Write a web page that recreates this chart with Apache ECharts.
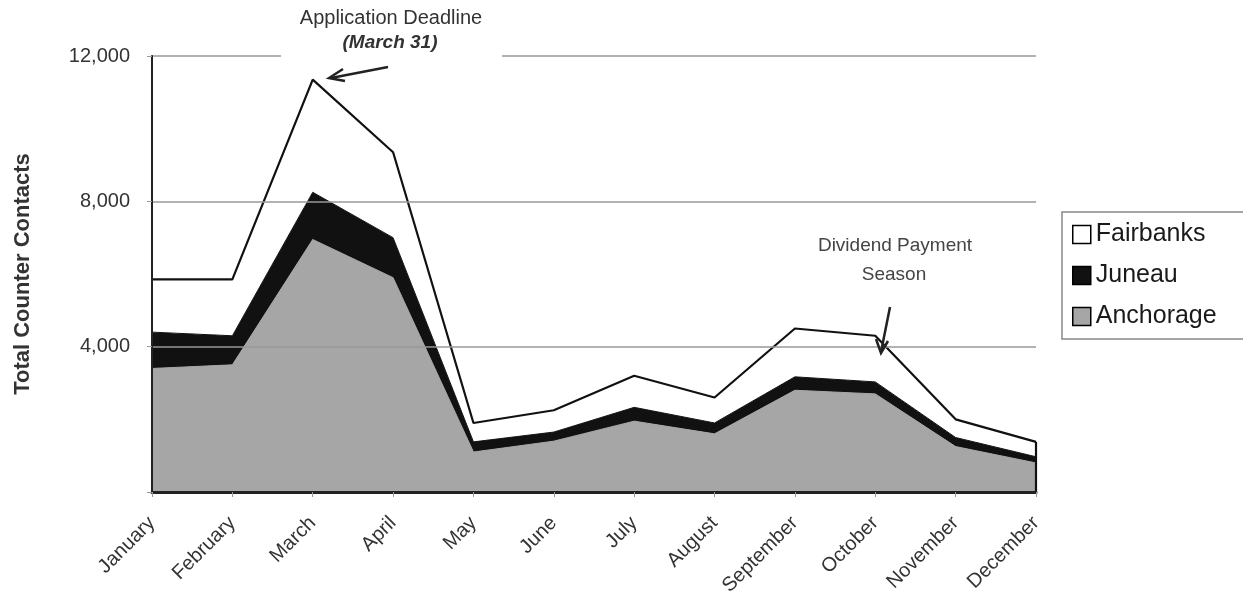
<!DOCTYPE html>
<html>
<head>
<meta charset="utf-8">
<script src="https://cdn.jsdelivr.net/npm/echarts@6/dist/echarts.min.js"></script>
<style>
html,body{margin:0;padding:0;background:#fff;}
#chart{width:1243px;height:615px;}
</style>
</head>
<body>
<div id="chart"></div>
<script>
// ---- data ----
const months = ['January','February','March','April','May','June','July','August','September','October','November','December'];
const anchorage = [3400, 3500, 6950, 5900, 1100, 1400, 1950, 1600, 2800, 2700, 1250, 800];
const juneau    = [1000,  800, 1300, 1100,  280,  250,  380,  300,  370,  330,  250, 170];
const fairbanks = [1450, 1550, 3100, 2350,  520,  600,  870,  700, 1330, 1270,  500, 410];
const yTicks = [0, 4000, 8000, 12000];

const FONT = '"Liberation Sans", Arial, sans-serif';
const lastIdx = months.length - 1;
const lastTotal = anchorage[lastIdx] + juneau[lastIdx] + fairbanks[lastIdx];

const chart = echarts.init(document.getElementById('chart'), null, {renderer: 'canvas'});
chart.setOption({
  backgroundColor: '#fff',
  animation: false,
  textStyle: {fontFamily: FONT},
  grid: {left: 152, right: 207, top: 56, bottom: 123, containLabel: false},
  legend: {
    orient: 'vertical',
    left: 1062, top: 212,
    itemWidth: 18, itemHeight: 18, itemGap: 16,
    icon: 'rect',
    borderColor: '#888', borderWidth: 1.5,
    padding: [10, 30, 10, 10],
    textStyle: {fontSize: 25, color: '#1a1a1a', fontFamily: FONT},
    data: [
      {name: 'Fairbanks', itemStyle: {color: '#fff', borderColor: '#000', borderWidth: 1.5}},
      {name: 'Juneau', itemStyle: {color: '#111', borderColor: '#000', borderWidth: 1.5}},
      {name: 'Anchorage', itemStyle: {color: '#a6a6a6', borderColor: '#000', borderWidth: 1.5}}
    ]
  },
  xAxis: {
    type: 'category',
    data: months,
    boundaryGap: false,
    axisLine: {lineStyle: {color: '#222', width: 3}},
    axisTick: {show: true, length: 5, lineStyle: {color: '#999'}},
    axisLabel: {rotate: 45, margin: 28, fontSize: 20, color: '#333', fontFamily: FONT, interval: 0},
    z: 10
  },
  yAxis: {
    type: 'value',
    min: yTicks[0], max: yTicks[yTicks.length - 1], interval: 4000,
    name: 'Total Counter Contacts',
    nameLocation: 'middle',
    nameGap: 118,
    nameTextStyle: {fontSize: 22, fontWeight: 'bold', color: '#333', fontFamily: FONT},
    axisLine: {show: true, lineStyle: {color: '#222', width: 2}},
    axisTick: {show: true, length: 5, lineStyle: {color: '#999'}},
    axisLabel: {
      margin: 22, fontSize: 20, color: '#333', fontFamily: FONT,
      formatter: v => v === 0 ? '' : v.toLocaleString('en-US')
    },
    splitLine: {show: true, lineStyle: {color: '#999', width: 1.5}},
    z: 10
  },
  series: [
    {
      name: 'Anchorage', type: 'line', stack: 'total', data: anchorage,
      symbol: 'none',
      lineStyle: {color: '#a6a6a6', width: 1},
      itemStyle: {color: '#a6a6a6'},
      areaStyle: {color: '#a6a6a6', opacity: 1}
    },
    {
      name: 'Juneau', type: 'line', stack: 'total', data: juneau,
      symbol: 'none',
      lineStyle: {color: '#111', width: 1},
      itemStyle: {color: '#111'},
      areaStyle: {color: '#111', opacity: 1}
    },
    {
      name: 'Fairbanks', type: 'line', stack: 'total', data: fairbanks,
      symbol: 'none',
      lineStyle: {color: '#111', width: 2.2},
      itemStyle: {color: '#fff'},
      areaStyle: {color: '#fff', opacity: 1},
      markLine: {
        silent: true, symbol: 'none', label: {show: false},
        lineStyle: {color: '#111', width: 2.2, type: 'solid'},
        data: [[{coord: [months[lastIdx], 0]}, {coord: [months[lastIdx], lastTotal]}]]
      }
    }
  ],
  graphic: [
    {type: 'rect', shape: {x: 281, y: 50, width: 221, height: 12}, style: {fill: '#fff'}, z: 50},
    {type: 'text', x: 391, y: 18, z: 60,
      style: {text: 'Application Deadline', font: '20px ' + FONT, fill: '#333', textAlign: 'center', textVerticalAlign: 'middle'}},
    {type: 'text', x: 390, y: 43, z: 60,
      style: {text: '(March 31)', font: 'italic bold 19px ' + FONT, fill: '#333', textAlign: 'center', textVerticalAlign: 'middle'}},
    {type: 'line', z: 60, shape: {x1: 388, y1: 67, x2: 331, y2: 78}, style: {stroke: '#222', lineWidth: 2.5}},
    {type: 'polyline', z: 60, shape: {points: [[343, 69], [329, 78], [345, 81]]}, style: {stroke: '#222', lineWidth: 2.5, fill: null}},
    {type: 'text', x: 895, y: 246, z: 60,
      style: {text: 'Dividend Payment', font: '19px ' + FONT, fill: '#444', textAlign: 'center', textVerticalAlign: 'middle'}},
    {type: 'text', x: 894, y: 275, z: 60,
      style: {text: 'Season', font: '19px ' + FONT, fill: '#444', textAlign: 'center', textVerticalAlign: 'middle'}},
    {type: 'line', z: 60, shape: {x1: 890, y1: 307, x2: 881, y2: 352}, style: {stroke: '#222', lineWidth: 2.5}},
    {type: 'polyline', z: 60, shape: {points: [[876, 339], [881, 353], [888, 341]]}, style: {stroke: '#222', lineWidth: 2.5, fill: null}}
  ]
});
</script>
</body>
</html>
